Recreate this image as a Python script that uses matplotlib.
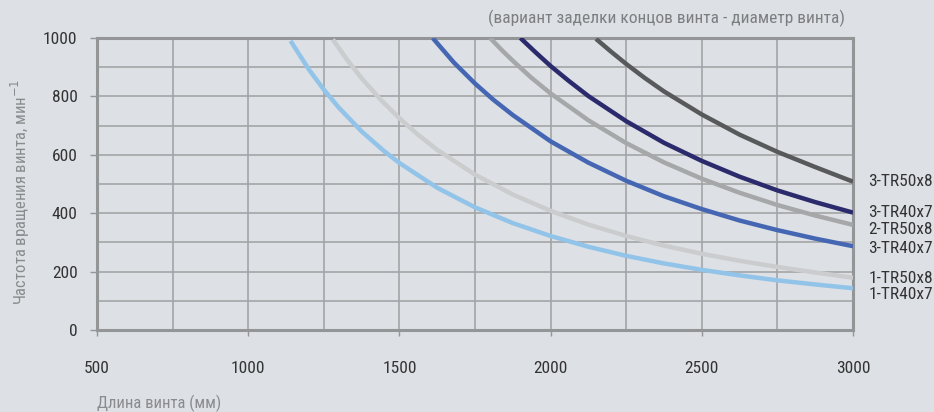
import matplotlib
matplotlib.use("Agg")
import matplotlib.pyplot as plt
from matplotlib.ticker import MultipleLocator

plt.rcParams["font.family"] = ["Roboto Condensed", "PT Sans Narrow", "DejaVu Sans"]

# данные кривых (длина винта, мм -> частота, мин^-1)
L_1tr40 = [1140, 1200, 1250, 1300, 1375, 1450, 1500, 1625, 1750, 1875, 2000, 2125, 2250, 2375, 2500, 2625, 2750, 2875, 3000]
N_1tr40 = [990, 893, 823, 761, 680, 612, 572, 487, 420, 366, 322, 285, 254, 228, 206, 187, 170, 156, 143]

L_1tr50 = [1280, 1325, 1375, 1435, 1500, 1560, 1625, 1750, 1875, 2000, 2125, 2250, 2375, 2500, 2625, 2750, 2875, 3000]
N_1tr50 = [995, 928, 862, 792, 725, 670, 617, 532, 464, 408, 361, 322, 289, 261, 237, 216, 197, 179]

L_3tr40b = [1610, 1680, 1750, 1810, 1875, 2000, 2125, 2250, 2375, 2500, 2625, 2750, 2875, 3000]
N_3tr40b = [1000, 916, 844, 789, 736, 646, 573, 511, 458, 414, 375, 342, 313, 287]

L_2tr50 = [1800, 1840, 1875, 1935, 2000, 2125, 2250, 2375, 2500, 2625, 2750, 2875, 3000]
N_2tr50 = [1000, 957, 922, 865, 810, 718, 640, 574, 518, 470, 428, 392, 360]

L_3tr40 = [1900, 1950, 2000, 2060, 2125, 2250, 2375, 2500, 2625, 2750, 2875, 3000]
N_3tr40 = [1000, 951, 904, 853, 801, 715, 641, 579, 525, 478, 438, 402]

L_3tr50 = [2150, 2200, 2250, 2310, 2375, 2500, 2625, 2750, 2875, 3000]
N_3tr50 = [997, 953, 911, 864, 817, 738, 669, 610, 558, 508]

# цвет, подпись, сдвиг подписи вниз (pt)
curves = [
    (L_1tr40, N_1tr40, "#92c4ea", "1-TR40x7", 4.5),
    (L_1tr50, N_1tr50, "#cbcccd", "1-TR50x8", 0.5),
    (L_3tr40b, N_3tr40b, "#4466b3", "3-TR40x7", 2),
    (L_2tr50, N_2tr50, "#a6a7a9", "2-TR50x8", 3),
    (L_3tr40, N_3tr40, "#2b2a6c", "3-TR40x7", 0),
    (L_3tr50, N_3tr50, "#58595b", "3-TR50x8", 0),
]

bg = "#dde0e4"
fig = plt.figure(figsize=(9.34, 4.12), dpi=100, facecolor=bg)
ax = fig.add_axes([0.1039, 0.199, 0.8094, 0.7088], facecolor=bg)

for L, N, col, name, dy in curves:
    ax.plot(L, N, color=col, lw=3.2, solid_capstyle="butt", zorder=3)
    ax.annotate(name, (3000, N[-1]), xytext=(11, -dy), textcoords="offset points",
                fontsize=12.5, color="#333333", va="center", ha="left")

ax.set_xlim(500, 3000)
ax.set_ylim(0, 1000)
ax.xaxis.set_major_locator(MultipleLocator(500))
ax.xaxis.set_minor_locator(MultipleLocator(250))
ax.yaxis.set_major_locator(MultipleLocator(200))
ax.yaxis.set_minor_locator(MultipleLocator(100))
ax.grid(True, which="both", color="#a3a4a6", lw=1.2, zorder=1)
ax.set_axisbelow(True)

for s in ax.spines.values():
    s.set_color("#949597")
    s.set_linewidth(2.2)

ax.tick_params(axis="x", which="major", length=4, width=1, color="#949597", pad=18,
               labelsize=12.5, labelcolor="#333333")
ax.tick_params(axis="y", which="major", length=5, width=1, color="#949597", pad=9,
               labelsize=12.5, labelcolor="#333333")
ax.tick_params(which="minor", length=0)

fig.text(0.104, 0.0, "Длина винта (мм)", fontsize=12, color="#8a8b8d", ha="left", va="bottom")
fig.text(0.022, 0.535, "Частота вращения винта, мин$^{-1}$", fontsize=12, color="#8a8b8d",
         rotation=90, ha="center", va="center")
fig.text(0.905, 0.955, "(вариант заделки концов винта - диаметр винта)", fontsize=12.5,
         color="#7d7e80", ha="right", va="center")

fig.savefig("out.png", dpi=100, facecolor=bg)
